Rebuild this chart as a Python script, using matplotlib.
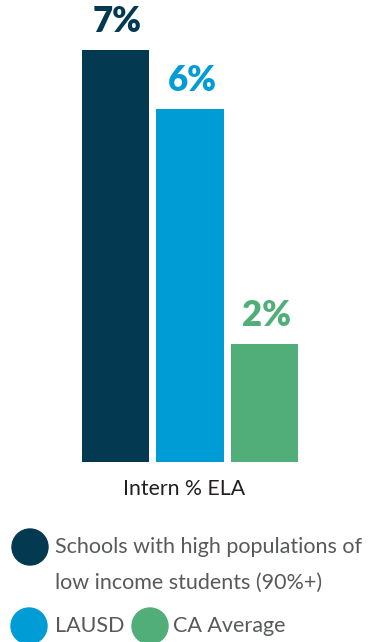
import matplotlib
matplotlib.use("Agg")
import matplotlib.pyplot as plt
from matplotlib.patches import Ellipse

categories = ["Schools with high populations of\nlow income students (90%+)", "LAUSD", "CA Average"]
values = [7, 6, 2]
value_labels = ["7%", "6%", "2%"]
colors = ["#033a52", "#009cd6", "#52ae78"]
xlabel = "Intern % ELA"

W, H = 368, 642
fig = plt.figure(figsize=(W / 100, H / 100), dpi=100)
plt.rcParams['font.family'] = ['Lato', 'DejaVu Sans']

# main bar axes (pixel-calibrated)
base_px = 462
ax = fig.add_axes([0, (H - base_px) / H, 1, base_px / H])
px_per_unit = 74.5
c0 = 115.5
ax.set_xlim(-c0 / px_per_unit, (W - c0) / px_per_unit)
ax.set_ylim(0, base_px / 58.8)
x = list(range(len(values)))
bars = ax.bar(x, values, width=0.9, color=colors)
for xi, v, lab, col in zip(x, values, value_labels, colors):
    ax.annotate(lab, (xi, v), xytext=(1.5, 13), textcoords="offset points",
                ha="center", va="baseline", fontsize=25, fontweight="heavy", color=col)
ax.axis("off")

fig.text(184 / W, 1 - 489 / H, xlabel, ha="center", va="center", fontsize=15.3, color="#231f20")

# legend axes in pixel coords
lax = fig.add_axes([0, 0, 1, 1])
lax.set_xlim(0, W)
lax.set_ylim(H, 0)
lax.axis("off")
leg_items = [
    (30, 547, 55, categories[0]),
    (29, 626, 55, categories[1]),
    (150, 626, 173, categories[2]),
]
for (cx, cy, tx, label), col in zip(leg_items, colors):
    lax.add_patch(Ellipse((cx, cy), 36, 36, color=col))
    lines = label.split("\n")
    for i, line in enumerate(lines):
        lax.text(tx, cy + i * 36, line, ha="left", va="center", fontsize=15.5, color="#58595b")

fig.savefig("out.png", dpi=100)
